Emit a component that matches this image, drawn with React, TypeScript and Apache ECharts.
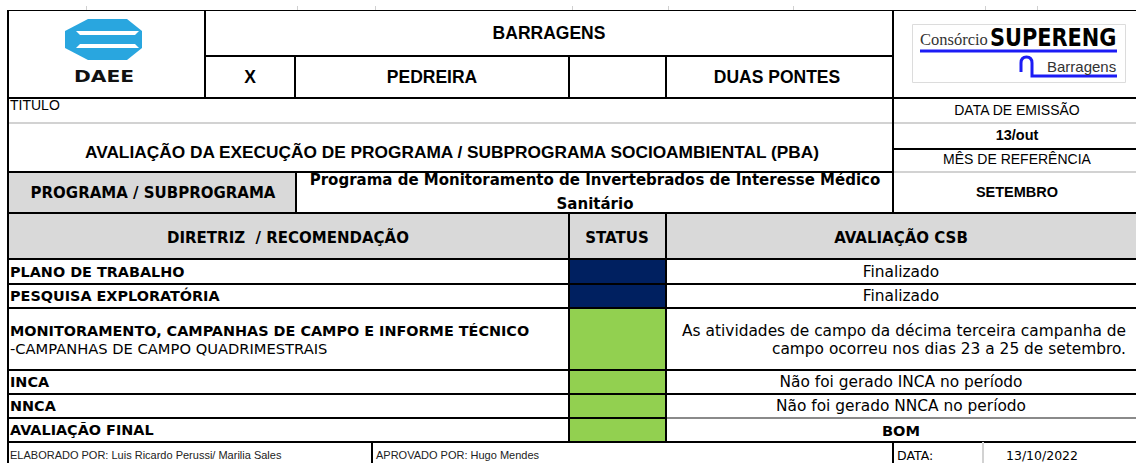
import React, { useEffect, useRef } from "react";
import * as echarts from "echarts";

// ---------- data ----------
const headerTitle = "BARRAGENS";
const headerOptions = ["X", "PEDREIRA", "", "DUAS PONTES"];
const docTitle = "AVALIAÇÃO DA EXECUÇÃO DE PROGRAMA / SUBPROGRAMA SOCIOAMBIENTAL (PBA)";
const issueDate = "13/out";
const referenceMonth = "SETEMBRO";
const programLabel = "PROGRAMA / SUBPROGRAMA";
const programName = ["Programa de Monitoramento de Invertebrados de Interesse Médico", "Sanitário"];
const columnHeaders = ["DIRETRIZ  / RECOMENDAÇÃO", "STATUS", "AVALIAÇÃO CSB"];
const rowTitles = [
  "PLANO DE TRABALHO",
  "PESQUISA EXPLORATÓRIA",
  "MONITORAMENTO, CAMPANHAS DE CAMPO E INFORME TÉCNICO",
  "INCA",
  "NNCA",
  "AVALIAÇÃO FINAL",
];
const rowSubtitles = ["", "", "-CAMPANHAS DE CAMPO QUADRIMESTRAIS", "", "", ""];
const rowStatus = ["finalizado", "finalizado", "bom", "bom", "bom", "bom"];
const rowEvaluations = [
  ["Finalizado"],
  ["Finalizado"],
  ["As atividades de campo da décima terceira campanha de", "campo ocorreu nos dias 23 a 25 de setembro."],
  ["Não foi gerado INCA no período"],
  ["Não foi gerado NNCA no período"],
  ["BOM"],
];
const preparedBy = "ELABORADO POR: Luis Ricardo Perussi/ Marilia Sales";
const approvedBy = "APROVADO POR: Hugo Mendes";
const footerDateLabel = "DATA:";
const footerDate = "13/10/2022";

// ---------- styles / layout ----------
const STATUS_COLORS: Record<string, string> = { finalizado: "#002060", bom: "#92D050" };
const ARIAL = '"Liberation Sans", Arial, sans-serif';
const VERDANA = '"DejaVu Sans", Verdana, sans-serif';
const SERIF = '"Liberation Serif", "Times New Roman", serif';
const GRAY_FILL = "#d9d9d9";
const LIGHT_LINE = "#d2d2d2";
const W = 1136;
const L = 8;
const ROW_EDGES = [259, 284, 308, 370, 394, 418, 442];

echarts.graphic.registerShape(
  "supArch",
  echarts.graphic.extendPath("M0 15 L0 6 Q0 0 5.5 0 Q11 0 11 6 L11 19 L96 19", {})
);

function txt(text: string, x: number, y: number, o: any = {}) {
  return {
    type: "text",
    x,
    y,
    z: 10,
    scaleX: o.scaleX ?? 1,
    style: {
      text,
      fill: o.fill ?? "#000",
      fontSize: o.size ?? 14,
      fontFamily: o.family ?? ARIAL,
      fontWeight: o.weight ?? "normal",
      align: o.align ?? "center",
      verticalAlign: "middle",
      textAlign: o.align ?? "center",
      textVerticalAlign: "middle",
    },
  };
}
function hline(y: number, x1: number, x2: number, color = "#000", w = 2) {
  return { type: "line", z: 5, shape: { x1, y1: y, x2, y2: y }, style: { stroke: color, lineWidth: w } };
}
function vline(x: number, y1: number, y2: number, color = "#000", w = 2) {
  return { type: "line", z: 5, shape: { x1: x, y1, x2: x, y2 }, style: { stroke: color, lineWidth: w } };
}
function rect(x: number, y: number, w: number, h: number, fill: string, z = 1, stroke?: string) {
  return {
    type: "rect",
    z,
    shape: { x, y, width: w, height: h },
    style: stroke ? { fill, stroke, lineWidth: 1 } : { fill },
  };
}

function buildGraphic() {
  const els: any[] = [];
  // backgrounds
  els.push(rect(L, 172, 296 - L, 41, GRAY_FILL));
  els.push(rect(L, 213, W - L, 46, GRAY_FILL));
  rowStatus.forEach((s, i) => {
    els.push(rect(569, ROW_EDGES[i], 97, ROW_EDGES[i + 1] - ROW_EDGES[i], STATUS_COLORS[s]));
  });

  // faint sheet grid ticks above the form
  [86, 297, 375, 572, 668, 793, 985, 1037].forEach((x) => els.push(vline(x + 0.5, 6, 10, "#d0d0d0", 1)));

  // horizontal lines
  els.push(hline(10.5, L, W, "#000", 1));
  els.push(hline(56, 205, 893));
  els.push(hline(98, L, W));
  els.push(hline(123, L, W, LIGHT_LINE));
  els.push(hline(149, 893, W));
  els.push(hline(172, L, 893));
  els.push(hline(172, 893, W, LIGHT_LINE));
  els.push(hline(213, L, W));
  ROW_EDGES.forEach((y, i) => {
    if (i === 5) {
      els.push(hline(y, L, 666));
      els.push(hline(y, 666, W, "#8a8a8a"));
    } else {
      els.push(hline(y, L, W));
    }
  });

  // vertical lines
  els.push(vline(L, 10, 463));
  els.push(vline(205, 10, 98));
  els.push(vline(295, 56, 98));
  els.push(vline(569, 56, 98));
  els.push(vline(666, 56, 98));
  els.push(vline(893, 10, 213));
  els.push(vline(296, 172, 213));
  els.push(vline(569, 213, 442));
  els.push(vline(666, 213, 442));
  els.push(vline(372, 442, 463));
  els.push(vline(893, 442, 463));
  els.push(vline(983, 442, 463, LIGHT_LINE));

  // DAEE logo
  const blue = "#29a6df";
  els.push({
    type: "polygon",
    z: 3,
    shape: { points: [[88, 19], [127, 19], [142, 31], [142, 48], [127, 60], [88, 60], [65, 48], [65, 31]] },
    style: { fill: blue },
  });
  els.push({
    type: "polygon",
    z: 4,
    shape: { points: [[76, 31], [139, 31], [135, 35], [80, 35]] },
    style: { fill: "#fff" },
  });
  els.push({
    type: "polygon",
    z: 4,
    shape: { points: [[80, 44], [135, 44], [139, 48], [76, 48]] },
    style: { fill: "#fff" },
  });
  els.push(txt("DAEE", 104, 77, { size: 15, weight: "bold", family: VERDANA, scaleX: 1.35, fill: "#111" }));

  // Consórcio SUPERENG logo
  els.push(rect(912.5, 24.5, 213, 58, "#fff", 2, "#dcdcdc"));
  els.push(txt("Consórcio", 920, 39, { size: 16.5, family: SERIF, align: "left", fill: "#333" }));
  els.push(txt("SUPERENG", 990, 37, { size: 24, weight: "bold", family: VERDANA, align: "left", scaleX: 0.87, fill: "#000" }));
  els.push(hline(51, 920, 1117, "#1c1cf5", 3));
  els.push({ type: "supArch", z: 6, x: 1021, y: 57, style: { stroke: "#1c1cf5", lineWidth: 3, fill: "none" } });
  els.push(txt("Barragens", 1047, 66, { size: 15, align: "left", fill: "#333" }));

  // header texts
  els.push(txt(headerTitle, 549, 33, { size: 17.5, weight: "bold" }));
  const optCenters = [250, 432, 617, 777];
  headerOptions.forEach((t, i) => {
    if (t) els.push(txt(t, optCenters[i], 77, { size: 17.5, weight: "bold" }));
  });
  els.push(txt("TITULO", 10, 105, { size: 14, align: "left" }));
  els.push(txt(docTitle, 452, 152, { size: 17.3, weight: "bold" }));
  els.push(txt("DATA DE EMISSÃO", 1017, 110, { size: 14 }));
  els.push(txt(issueDate, 1017, 135, { size: 14.5, weight: "bold" }));
  els.push(txt("MÊS DE REFERÊNCIA", 1017, 159, { size: 14 }));
  els.push(txt(referenceMonth, 1017, 192, { size: 14.5, weight: "bold" }));

  els.push(txt(programLabel, 153, 193, { size: 15, weight: "bold", family: VERDANA }));
  els.push(txt(programName[0], 595, 180, { size: 15, weight: "bold", family: VERDANA }));
  els.push(txt(programName[1], 595, 204, { size: 15, weight: "bold", family: VERDANA }));

  const colCenters = [288, 617, 901];
  columnHeaders.forEach((t, i) => els.push(txt(t, colCenters[i], 238, { size: 15, weight: "bold", family: VERDANA })));

  rowTitles.forEach((t, i) => {
    const top = ROW_EDGES[i];
    const bot = ROW_EDGES[i + 1];
    const mid = (top + bot) / 2;
    if (rowSubtitles[i]) {
      els.push(txt(t, 10, mid - 8, { size: 14.4, weight: "bold", family: VERDANA, align: "left" }));
      els.push(txt(rowSubtitles[i], 10, mid + 9, { size: 14.7, family: VERDANA, align: "left" }));
    } else {
      els.push(txt(t, 10, mid, { size: 14.4, weight: "bold", family: VERDANA, align: "left" }));
    }
    const ev = rowEvaluations[i];
    if (ev.length > 1) {
      els.push(txt(ev[0], 1126, mid - 8, { size: 15.4, family: VERDANA, align: "right" }));
      els.push(txt(ev[1], 1126, mid + 10, { size: 15.4, family: VERDANA, align: "right" }));
    } else {
      const isFinal = i === rowTitles.length - 1;
      els.push(
        txt(ev[0], 901, mid, { size: isFinal ? 14.6 : 15.4, weight: isFinal ? "bold" : "normal", family: VERDANA })
      );
    }
  });

  // footer
  els.push(txt(preparedBy, 10, 455, { size: 11, align: "left", fill: "#222" }));
  els.push(txt(approvedBy, 376, 455, { size: 11, align: "left", fill: "#222" }));
  els.push(txt(footerDateLabel, 897, 455, { size: 12.5, family: VERDANA, align: "left" }));
  els.push(txt(footerDate, 1042, 455, { size: 12.5, family: VERDANA }));
  return els;
}

export default function App() {
  const ref = useRef<HTMLDivElement>(null);
  useEffect(() => {
    document.body.style.margin = "0";
    if (!ref.current) return;
    const chart = echarts.init(ref.current, undefined, { renderer: "svg" });
    chart.setOption({
      animation: false,
      backgroundColor: "#ffffff",
      graphic: { elements: buildGraphic() },
    });
    return () => chart.dispose();
  }, []);
  return <div ref={ref} style={{ width: 1136, height: 463 }} />;
}
